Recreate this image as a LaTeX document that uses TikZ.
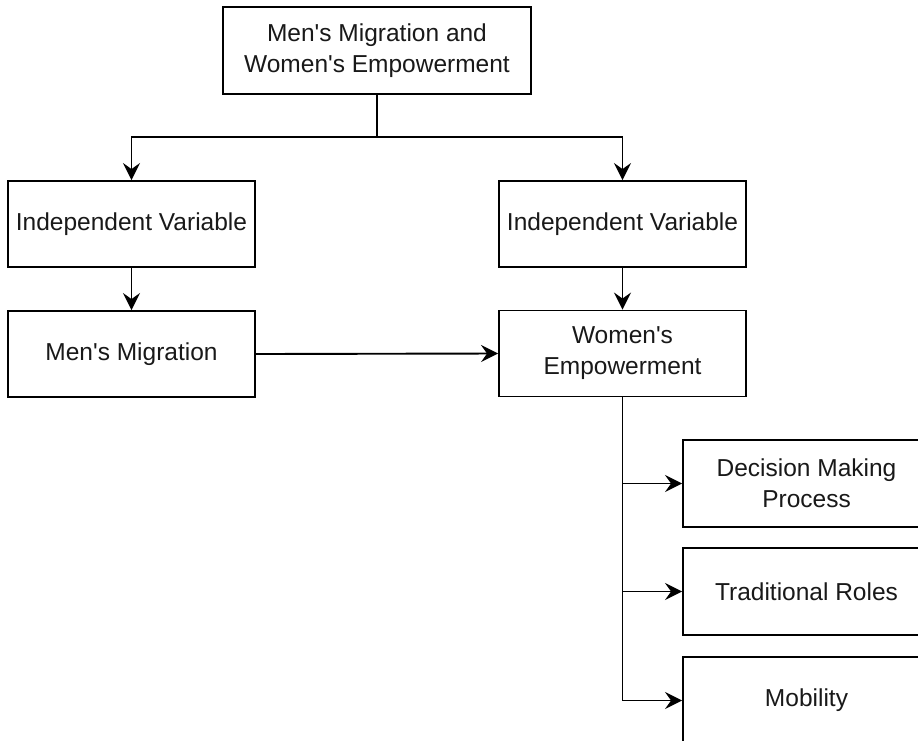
\documentclass[tikz,border=0pt]{standalone}
\usepackage{fontspec}
\setmainfont{Liberation Sans}
\usetikzlibrary{arrows.meta}
\newcommand{\ap}{\textquotesingle}
\begin{document}
\begin{tikzpicture}[x=1pt,y=-1pt,
  box/.style={draw=black, line width=1.9pt, rectangle, inner sep=0pt,
    minimum width=247pt, minimum height=86pt, align=center,
    font=\fontsize{24.5}{31}\selectfont, text=black!90},
  conn/.style={line width=1.9pt, draw=black},
  arr/.style={conn, -{Stealth[length=17pt, width=17pt, inset=6pt]}}]
\useasboundingbox (0,0) rectangle (918,740);
\fill[white] (0,0) rectangle (918,740);
\clip (0,0) rectangle (918,740);
\node[box, minimum width=308pt, minimum height=87pt] (top) at (377,50.5) {Men\ap s Migration and\\Women\ap s Empowerment};
\node[box] (iv1) at (131.5,224) {Independent Variable};
\node[box] (mm) at (131.5,354) {Men\ap s Migration};
\node[box] (iv2) at (622.5,224) {Independent Variable};
\node[box] (we) at (622.5,353.5) {Women\ap s\\Empowerment};
\node[box, minimum height=87pt] (dm) at (806.5,483.5) {Decision Making\\Process};
\node[box, minimum height=87pt] (tr) at (806.5,591.5) {Traditional Roles};
\node[box, minimum height=87pt] (mob) at (806.5,700.5) {Mobility};
\coordinate (j) at (377,137);
\draw[conn] (top.south) -- (j);
\draw[arr] (j) -| (iv1.north);
\draw[arr] (j) -| (iv2.north);
\draw[arr] (iv1.south) -- (mm.north);
\draw[arr] (iv2.south) -- (we.north);
\draw[arr] (mm.east) -- (we.west);
\draw[conn] (we.south) -- (we.south |- mob.west);
\draw[arr] (we.south |- dm.west) -- (dm.west);
\draw[arr] (we.south |- tr.west) -- (tr.west);
\draw[arr] (we.south |- mob.west) -- (mob.west);
\end{tikzpicture}
\end{document}
